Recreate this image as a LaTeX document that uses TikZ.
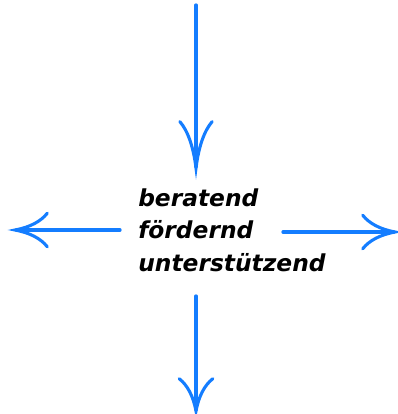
\documentclass[tikz,border=0pt]{standalone}
\usepackage{fontspec}
\newfontfamily\verbfont{DejaVu Sans}
\usepackage{tikz}
\usetikzlibrary{arrows.meta,positioning}

\definecolor{arrowblue}{RGB}{20,125,255}

% swept-back open arrow head, barbs curving out from the tip
\pgfdeclarearrow{
  name = Swept,
  parameters = {\the\pgfarrowlength,\the\pgfarrowwidth,\the\pgfarrowlinewidth},
  setup code = {
    \pgfarrowssettipend{0pt}
    \pgfarrowssetlineend{-1pt}
    \pgfarrowsupperhullpoint{-\pgfarrowlength}{.5\pgfarrowwidth}
    \pgfarrowshullpoint{0pt}{0pt}
    \pgfarrowssavethe\pgfarrowlength
    \pgfarrowssavethe\pgfarrowwidth
    \pgfarrowssavethe\pgfarrowlinewidth
  },
  drawing code = {
    \pgfsetlinewidth{\pgfarrowlinewidth}
    \pgfsetroundcap
    \pgfpathmoveto{\pgfqpoint{-\pgfarrowlength}{.5\pgfarrowwidth}}
    \pgfpathcurveto{\pgfqpoint{-.8\pgfarrowlength}{.25\pgfarrowwidth}}
                   {\pgfqpoint{-.45\pgfarrowlength}{.08\pgfarrowwidth}}
                   {\pgfpointorigin}
    \pgfpathcurveto{\pgfqpoint{-.45\pgfarrowlength}{-.08\pgfarrowwidth}}
                   {\pgfqpoint{-.8\pgfarrowlength}{-.25\pgfarrowwidth}}
                   {\pgfqpoint{-\pgfarrowlength}{-.5\pgfarrowwidth}}
    \pgfusepathqstroke
  },
  defaults = {length=24pt, width=24pt, line width=2pt}
}

\begin{document}
\begin{tikzpicture}[
    x=0.025cm, y=-0.025cm,
    words/.style={align=left, inner sep=0pt, font=\verbfont\bfseries\itshape\fontsize{16.6}{22.8}\selectfont},
    pointer/.style={arrowblue, line width=2.3pt, line cap=round},
    longhead/.style={-{Swept[length=33pt, width=23pt, line width=2.2pt]}},
    shorthead/.style={-{Swept[length=23pt, width=24pt, line width=2.2pt]}}
]
\useasboundingbox (0,0) rectangle (397,414);

% Centre text
\node[words, anchor=base west] (txt) at (138,271) {beratend\\fördernd\\unterstützend};

% Ends of the four arrows
\coordinate (top_start) at (196,5);
\coordinate (top_end) at (196,168);
\coordinate (bottom_start) at (196,296);
\coordinate (bottom_end) at (196,411);
\coordinate (left_start) at (120,230);
\coordinate (left_end) at (15,230);
\coordinate (right_start) at (283,232);
\coordinate (right_end) at (395,232);

% Arrows
\draw[pointer, longhead] (top_start) -- (top_end);
\draw[pointer, shorthead] (bottom_start) -- (bottom_end);
\draw[pointer, shorthead] (left_start) -- (left_end);
\draw[pointer, shorthead] (right_start) -- (right_end);

\end{tikzpicture}
\end{document}
